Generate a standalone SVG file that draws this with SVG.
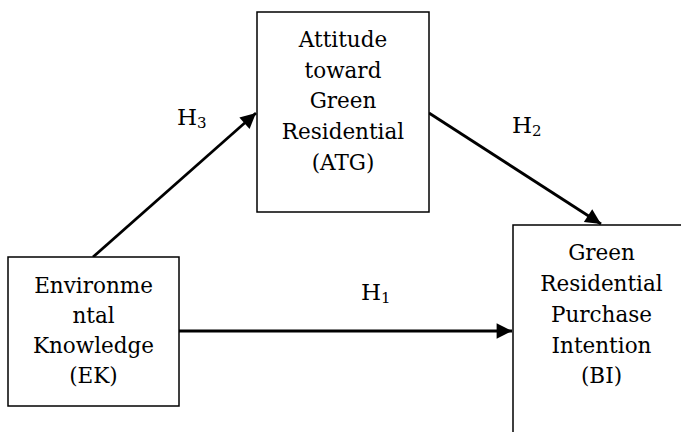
<svg xmlns="http://www.w3.org/2000/svg" width="681" height="432" viewBox="0 0 681 432">
<style>
.box{fill:#fff;stroke:#000;stroke-width:1.5}
.t{font-family:"DejaVu Serif","Liberation Serif",serif;font-size:21.5px;fill:#000;text-anchor:middle}
.h{font-family:"DejaVu Serif","Liberation Serif",serif;font-size:23px;fill:#000}
.s{font-size:15px}
.c{stroke:#000;stroke-width:2.8;fill:none}
</style>
<defs>
<marker id="ah" viewBox="0 0 10 10" refX="10" refY="5" markerWidth="6" markerHeight="5.5" orient="auto" markerUnits="strokeWidth">
<path d="M0,0 L10,5 L0,10 z" fill="#000"/>
</marker>
</defs>
<rect width="681" height="432" fill="#fff"/>
<g id="connectors">
<line class="c" x1="93" y1="257" x2="256" y2="113" marker-end="url(#ah)"/>
<line class="c" x1="429" y1="113" x2="601" y2="224" marker-end="url(#ah)"/>
<line class="c" x1="179" y1="331" x2="512" y2="331" marker-end="url(#ah)"/>
</g>
<g id="EK">
<rect class="box" x="8" y="257" width="171" height="149"/>
<text class="t" x="93.5" y="293">Environme</text>
<text class="t" x="93.5" y="323">ntal</text>
<text class="t" x="93.5" y="353">Knowledge</text>
<text class="t" x="93.5" y="383">(EK)</text>
</g>
<g id="ATG">
<rect class="box" x="257" y="12" width="172" height="200"/>
<text class="t" x="343" y="47">Attitude</text>
<text class="t" x="343" y="77.5">toward</text>
<text class="t" x="343" y="108">Green</text>
<text class="t" x="343" y="139">Residential</text>
<text class="t" x="343" y="169.5">(ATG)</text>
</g>
<g id="BI">
<path class="box" d="M513,432 V225 H690"/>
<text class="t" x="601.5" y="260">Green</text>
<text class="t" x="601.5" y="291">Residential</text>
<text class="t" x="601.5" y="321.5">Purchase</text>
<text class="t" x="601.5" y="352.5">Intention</text>
<text class="t" x="601.5" y="383">(BI)</text>
</g>
<g id="labels">
<text class="h" x="177" y="125">H<tspan class="s" dy="3">3</tspan></text>
<text class="h" x="512" y="133">H<tspan class="s" dy="3">2</tspan></text>
<text class="h" x="361" y="300">H<tspan class="s" dy="3">1</tspan></text>
</g>
</svg>
